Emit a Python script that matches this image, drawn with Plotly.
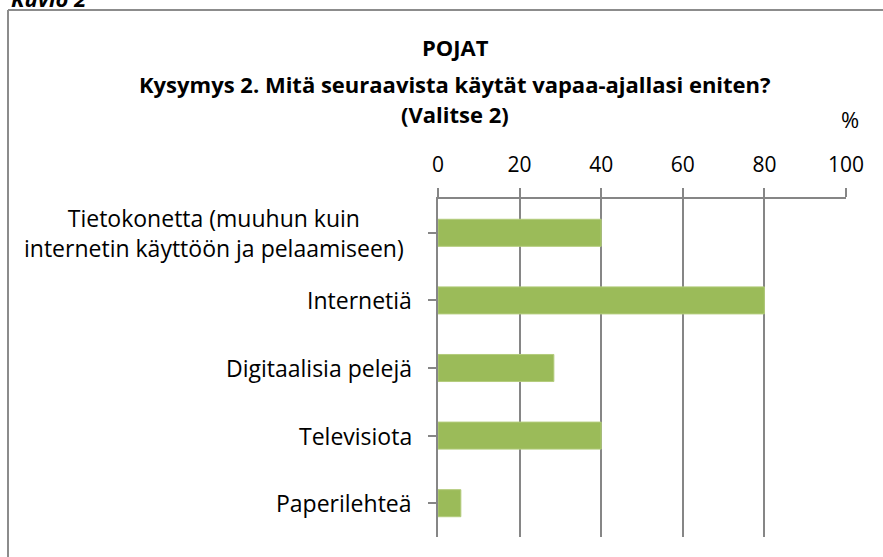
import plotly.graph_objects as go

categories = [
    "Tietokonetta (muuhun kuin<br>internetin käyttöön ja pelaamiseen)",
    "Internetiä",
    "Digitaalisia pelejä",
    "Televisiota",
    "Paperilehteä",
]
values = [40, 80, 28.4, 40, 5.6]
x_ticks = [0, 20, 40, 60, 80, 100]

W, H = 883, 557
L, T = 438, 199
R = W - 846
B = H - 537
PW, PH = W - L - R, H - T - B

def px(xp):
    return (xp - L) / PW

def py(yp):
    return 1 - (yp - T) / PH

FONT = "Open Sans, sans-serif"
GRID = "#868686"

fig = go.Figure()
fig.add_trace(go.Bar(
    x=values, y=list(range(len(categories))), orientation="h",
    marker=dict(color="#9BBB59", line=dict(color="#b3cc7c", width=1)),
    hoverinfo="x",
))

annotations = []
for i, c in enumerate(categories):
    annotations.append(dict(
        x=px(406 if i == 0 else 414), xref="paper", y=i, yref="y", text=c,
        showarrow=False, xanchor="right", yanchor="middle", align="center",
        font=dict(family=FONT, size=23, color="#000000"),
    ))

title_lines = [
    ("<b>POJAT</b>", 47),
    ("<b>Kysymys 2. Mitä seuraavista käytät vapaa-ajallasi eniten?</b>", 84),
    ("<b>(Valitse 2)</b>", 114),
]
for t, yy in title_lines:
    annotations.append(dict(
        x=px(455), xref="paper", y=py(yy), yref="paper", text=t, showarrow=False,
        xanchor="center", yanchor="middle",
        font=dict(family=FONT, size=22, color="#000000"),
    ))
annotations.append(dict(
    x=px(850), xref="paper", y=py(119), yref="paper", text="%", showarrow=False,
    xanchor="center", yanchor="middle",
    font=dict(family=FONT, size=22, color="#000000"),
))
annotations.append(dict(
    x=px(9), xref="paper", y=py(-2), yref="paper", text="<b><i>Kuvio 2</i></b>",
    showarrow=False, xanchor="left", yanchor="middle",
    font=dict(family=FONT, size=22, color="#000000"),
))

shapes = [
    dict(type="line", xref="paper", yref="paper", x0=px(8), x1=px(900),
         y0=py(10), y1=py(10), line=dict(color="#8c8c8c", width=2)),
    dict(type="line", xref="paper", yref="paper", x0=px(8), x1=px(8),
         y0=py(10), y1=py(620), line=dict(color="#8c8c8c", width=2)),
]

fig.update_layout(
    width=W, height=H,
    margin=dict(l=L, r=R, t=T, b=B, pad=0, autoexpand=False),
    paper_bgcolor="white", plot_bgcolor="white",
    showlegend=False, bargap=0.6,
    annotations=annotations, shapes=shapes,
    font=dict(family=FONT, size=21, color="#000000"),
    xaxis=dict(
        side="top", range=[0, 100], tickvals=x_ticks,
        ticktext=[str(v) for v in x_ticks],
        showgrid=True, gridcolor=GRID, gridwidth=1.5,
        showline=True, linecolor=GRID, linewidth=1.5,
        ticks="outside", ticklen=9, tickcolor=GRID, tickwidth=1.5,
        ticklabelstandoff=8, automargin=False,
        zeroline=False, tickfont=dict(family=FONT, size=21, color="#000000"),
        fixedrange=True,
    ),
    yaxis=dict(
        range=[4.5, -0.5], tickvals=list(range(len(categories))),
        showticklabels=False, tickson="boundaries", automargin=False,
        ticks="outside", ticklen=8, tickcolor=GRID, tickwidth=1.5,
        showline=True, linecolor=GRID, linewidth=1.5,
        showgrid=False, zeroline=False, fixedrange=True,
    ),
)

fig.write_html(
    "out.html",
    config={"displayModeBar": False},
    post_script="document.body.style.margin='0px';document.body.style.overflow='hidden';",
)
